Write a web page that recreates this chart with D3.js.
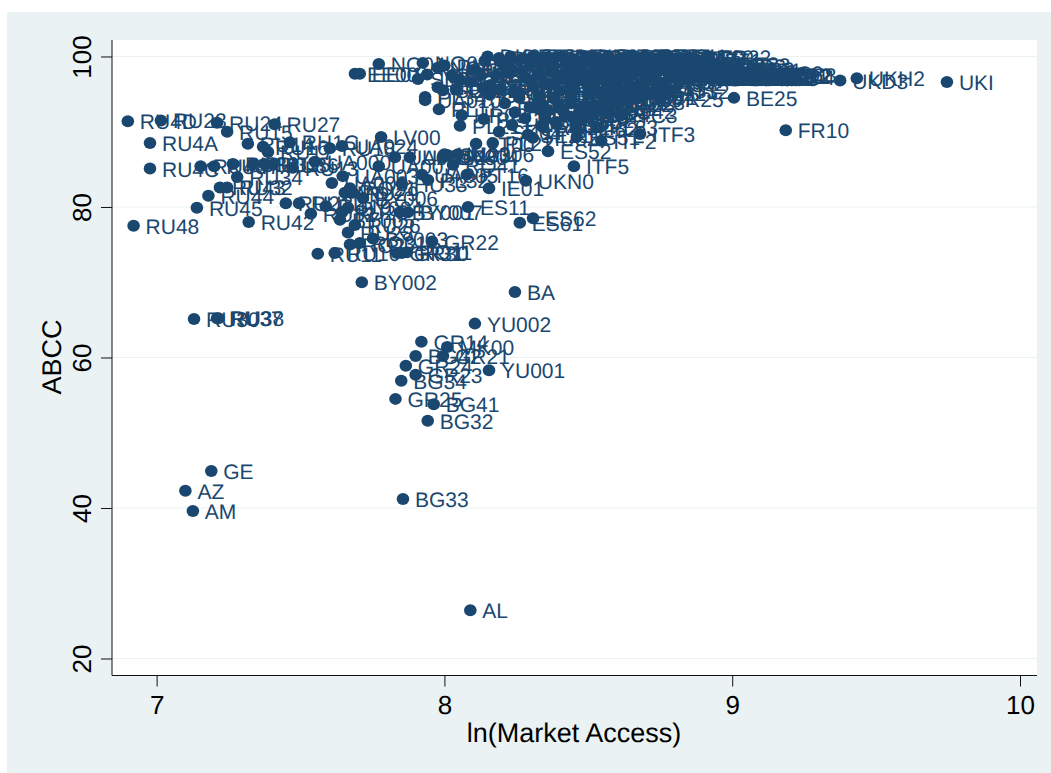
<!DOCTYPE html>
<html lang="en">
<head>
    <meta charset="UTF-8">
    <title>ABCC by ln(Market Access)</title>
    <script src="https://d3js.org/d3.v7.min.js"></script>
    <style>
        html, body { margin: 0; padding: 0; background: #fff; }
        svg { display: block; font-family: "Liberation Sans", Arial, sans-serif; text-rendering: geometricPrecision; }
        .tick text { fill: #000; }
    </style>
</head>
<body>
    <svg id="chart" width="1051" height="773"></svg>

    <script>
        // tick labels
        const xTicks = [7, 8, 9, 10];
        const yTicks = [20, 40, 60, 80, 100];

        // regions that can be read on their own (outskirts of the cloud)
        const outerLabels = [
            "UKI","UKH2","UKD3","FR10","BE25","ITF3","ITF2","ITF5","ES52","ES51",
            "ITC3","UKN0","IE01","ES11","ES62","ES61","BA","BY002","YU002","GR14",
            "MK00","BG42","GR21","GR24","GR23","YU001","BG34","GR25","BG41","BG32",
            "GE","AZ","AM","BG33","AL","RU30","RU37","RU38","RU48","RU45",
            "RU42","RU44","RU43","RU32","RU4D","RU23","RU24","RU15","RU27","RU4A",
            "RU4C","RU34"
        ];
        const outerX = [
            9.746,9.433,9.375,9.186,9.006,8.68,8.545,8.45,8.36,8.46,
            8.61,8.283,8.155,8.082,8.308,8.262,8.245,7.713,8.106,7.92,
            8.01,7.9,7.995,7.866,7.9,8.155,7.85,7.83,7.963,7.942,
            7.19,7.1,7.126,7.856,8.09,7.13,7.21,7.215,6.92,7.14,
            7.32,7.18,7.22,7.245,6.9,7.015,7.21,7.245,7.41,6.977,
            6.977,7.28
        ];
        const outerY = [
            96.6,97.1,96.8,90.2,94.5,89.7,88.8,85.4,87.4,89.3,
            92.2,83.5,82.5,80,78.5,77.9,68.7,70,64.5,62.1,
            61.4,60.2,60.2,58.9,57.7,58.3,56.9,54.5,53.8,51.6,
            44.9,42.3,39.6,41.2,26.4,65.1,65.2,65.2,77.5,79.9,
            78,81.5,82.6,82.6,91.4,91.5,91.2,90,91,88.5,
            85.1,84
        ];

        // regions in the loose band between the outskirts and the dense cloud
        const midLabels = [
            "RU46","RU47","RU33","RU31","RU35","RU36","RU13","UA000","RU14","RU16",
            "RU17","RH1C","RU18","UA024","UA007","UA003","UA008","UA009","UA002","UA004",
            "UA006","UA005","PL32","LV00","PT16","HU33","LT00","RU21","RU22","MD",
            "RU19","RU12","BY005","RU25","BY004","RU29","RO21","BY006","BY001","BY007",
            "RU26","RU28","BY003","RO22","RO31","GR30","GR22","GR31","RO11",
            "NO04","NO01","NO03","NO05","SE31","EE00","EE01","NO02","SE32","PL34",
            "UA010","PL11","HR03","PL21","PL12","SK04","PL22","HU32","RO32","SK03",
            "RU11","RU10","HU23","RO41"
        ];
        const midX = [
            7.153,7.2,7.265,7.335,7.376,7.404,7.473,7.55,7.317,7.37,
            7.387,7.463,7.602,7.644,7.772,7.647,7.609,7.828,7.88,7.995,
            8.047,7.922,7.943,7.78,8.078,7.852,8.11,7.449,7.495,7.654,
            7.588,7.536,7.637,7.644,7.665,7.682,7.672,7.717,7.845,7.873,
            7.689,7.665,7.752,7.672,7.706,7.852,7.957,7.835,7.87,
            7.772,7.925,7.977,7.94,7.908,7.689,7.706,7.977,7.995,7.933,
            7.933,7.981,8.06,8.054,8.137,8.19,8.168,8.307,8.343,8.01,
            7.56,7.619,8.0,8.03
        ];
        const midY = [
            85.4,85.4,85.7,85.7,85.7,85.6,85.2,86,88.4,88,
            87.3,88.6,87.8,88.1,85.4,84.1,83.2,86.6,86.6,86.6,
            87,84.3,83.6,89.3,84.3,83.1,88.4,80.5,80.5,81.9,
            80.1,79.1,78.3,79.3,79.9,81.9,82.5,81.2,79.3,79.3,
            77.6,76.6,75.8,75,75.2,73.9,75.4,73.9,74,
            99,99.15,98.5,97.6,97,97.7,97.7,95.9,95.5,94.6,
            94.2,93,92.2,90.8,91.7,90,88.5,89.2,90.6,86.9,
            73.8,73.9,87,85.6
        ];

        // dense cloud at the top of the chart; labels cannot be told apart here
        const coreLabels = [
            "DK00","DE11","DE12","DE13","DE14","DE21","DE22","DE23","DE24","DE25",
            "DE26","DE27","DE30","DE41","DE42","DE50","DE60","DE71","FR22","DE73",
            "DE80","DE91","DE92","DE93","DE94","DEA1","DEA2","DEA3","DEA4","DEA5",
            "DEB1","DEB2","DEB3","DEC0","DED1","DED2","DED3","DEE1","DEE2","DEE3",
            "DEF0","DEG0","NL11","NL12","NL13","NL21","NL22","NL23","NL31","NL32",
            "NL33","NL34","NL41","NL42","BE10","BE21","BE22","BE23","BE24","BE31",
            "BE32","BE33","BE34","BE35","UKC1","UKC2","UKD1","UKD2","UKD4","DEE8",
            "UKE1","UKE2","UKE3","UKE4","UKF1","UKF2","UKF3","UKG1","UKG2","UKG3",
            "FR21","DE72","FR23","FR24","DE74","FR26","FR30","FR41","FR42","FR43",
            "FR51","FR52","FR53","FR61","FR62","FR63","FR71","FR72","FR81","FR82",
            "FR83","AT11","AT12","AT13","AT21","AT22","AT31","AT32","AT33","AT34",
            "CH01","CH02","CH03","CH04","CH05","CH06","CH07","ITC1","FR25","ITC4",
            "ITD1","ITD2","ITD3","ITD4","ITD5","ITE1","ITE2","ITE3","ITE4","ITF1",
            "CZ01","CZ02","CZ03","CZ04","CZ05","CZ06","CZ07","CZ08","SK01","SK02",
            "HU10","HU21","HU22","HU31","SE11","SE12","SE21","SE22","SE23","SE33",
            "FI13","FI18","FI19","FI1A","DK01","LU00","UKH1","UKH3","UKJ1","UKJ2",
            "UKJ3","UKJ4","UKK1","UKK2","UKK3","UKK4","UKL1","UKL2","UKM2","UKM3",
            "PT11","IE02","ES21","ES22","ES23","ES24","ES41","ES42","ES43","ES53",
            "PL51","PL52","PL61","PL62","PL63","HR01","HR02","RO42","NO06","NO07",
            "DE75","DE76","DE77","DE78","DE79","DE81","DE82","DE83","DE84","DE85"
        ];
        const coreX = [
            8.15,8.31,8.36,8.41,8.45,8.49,8.53,8.57,8.61,8.64,
            8.67,8.70,8.73,8.76,8.79,8.82,8.85,8.88,8.915,8.72,
            8.30,8.34,8.38,8.43,8.47,8.51,8.55,8.59,8.63,8.68,
            8.75,8.80,8.84,8.88,8.92,8.95,8.98,9.01,8.93,8.97,
            8.22,8.27,8.33,8.37,8.42,8.46,8.50,8.54,8.58,8.62,
            8.66,8.70,8.74,8.78,8.82,8.86,8.90,8.94,8.98,9.02,
            8.98,9.0,9.02,9.04,9.06,9.08,9.10,9.11,9.12,9.13,
            8.95,8.98,9.01,9.03,9.05,9.07,9.0,9.02,9.04,9.06,
            8.30,8.35,8.40,8.44,8.48,8.52,8.56,8.60,8.64,8.68,
            8.72,8.76,8.80,8.84,8.88,8.92,8.96,9.00,8.50,8.58,
            8.40,8.45,8.54,8.62,8.66,8.70,8.74,8.78,8.82,8.86,
            8.33,8.38,8.44,8.50,8.56,8.60,8.64,8.68,8.75,8.58,
            8.34,8.40,8.44,8.48,8.52,8.55,8.60,8.64,8.52,8.47,
            8.026,8.04,8.054,8.089,8.10,8.123,8.134,8.158,8.18,8.19,
            8.21,8.228,8.235,8.245,8.26,8.28,8.29,8.297,8.33,8.34,
            8.35,8.387,8.45,8.505,8.00,8.14,8.20,8.24,8.92,8.96,
            8.99,9.03,9.07,9.11,8.80,8.83,8.86,8.89,8.92,8.95,
            8.23,8.30,8.36,8.42,8.48,8.31,8.37,8.43,8.49,8.55,
            8.26,8.33,8.39,8.46,8.53,8.28,8.41,8.57,8.12,8.16,
            8.19,8.23,8.27,8.33,8.39,8.44,8.50,8.55,8.60,8.66
        ];
        const coreY = [
            100,100,99.8,100,99.6,100,99.9,100,99.7,100,
            99.9,100,99.6,100,99.7,99.8,99.9,99.5,99.9,99.2,
            98.9,99.1,98.7,99,98.8,99.2,98.6,99.1,98.8,98.6,
            98.7,98.9,98.6,98.8,98.4,98.7,98.3,98.2,99,98.9,
            97.9,98.1,97.6,98,97.7,98.2,97.5,97.9,98.1,97.6,
            97.9,97.6,98,97.7,97.5,97.9,97.6,97.8,97.5,97.7,
            97.6,97.9,97.4,97.7,97.5,97.8,97.4,97.6,97.3,97.5,
            97.2,97.3,97.1,97.4,97.2,97.3,97.1,97.2,97.4,97.1,
            96.8,96.4,97,96.5,96.9,96.3,96.8,96.6,97,96.4,
            96.8,96.5,97.3,97.2,97.4,97.1,97.3,97.2,95.8,95.6,
            95.4,95.7,95.3,95.5,95.8,95.2,95.6,95.4,97.2,97.1,
            94.8,94.4,94.6,94.9,94.5,94.8,94.3,94.6,94.4,93.9,
            93.6,93.2,93.8,93.4,93.5,93.1,93.7,94,92.4,92.6,
            97.5,95.6,96.9,96.6,98.2,97.5,95.8,94.9,97.5,95.6,
            93.8,98.2,90.9,92.6,94.5,91.8,89.6,93.3,94.2,90.9,
            91.8,91.3,91.8,92.6,98.8,99.4,99.2,95.3,97.3,97.4,
            97.3,97.2,97.5,97.4,97.2,97.1,97.3,97.2,97.1,97.2,
            99.5,99.6,92.8,92.2,91.6,96,96.2,98,99.4,99.3,
            95.2,93,91,90.3,90.6,97.2,97.4,92.7,97.8,96.2,
            99.8,100,99.7,99.5,99.9,99.4,99.5,99.6,99.4,99.5
        ];

        const width = 1051, height = 773;
        const svg = d3.select('#chart');

        // graph region (the pale band) and white plot area
        svg.append('rect').attr('x', 7).attr('y', 12)
            .attr('width', width - 7).attr('height', height - 12)
            .attr('fill', '#eaf2f3');
        svg.append('rect').attr('x', 112).attr('y', 40)
            .attr('width', 925).attr('height', 635.5)
            .attr('fill', '#fff');

        // scales are extended past the first/last tick so the axes reach the corners
        const xScale = d3.scaleLinear().domain([6.845, 10.059]).range([112, 1037]);
        const yScale = d3.scaleLinear().domain([17.74, 102.19]).range([675.5, 40]);

        // gridlines
        svg.append('g').selectAll('line')
            .data(yTicks)
            .enter().append('line')
            .attr('x1', 112).attr('x2', 1037)
            .attr('y1', d => yScale(d)).attr('y2', d => yScale(d))
            .attr('stroke', '#eaf2f3').attr('stroke-width', 1);

        // points
        const sets = [
            [outerLabels, outerX, outerY],
            [midLabels, midX, midY],
            [coreLabels, coreX, coreY]
        ];
        const points = [];
        sets.forEach(([labels, xs, ys]) => {
            labels.forEach((label, i) => points.push({ label: label, x: xs[i], y: ys[i] }));
        });

        const plot = svg.append('g');
        plot.selectAll('ellipse')
            .data(points)
            .enter().append('ellipse')
            .attr('cx', d => xScale(d.x))
            .attr('cy', d => yScale(d.y))
            .attr('rx', 6.3)
            .attr('ry', 6)
            .attr('fill', '#1a476f');

        plot.selectAll('text')
            .data(points)
            .enter().append('text')
            .attr('x', d => xScale(d.x) + 12)
            .attr('y', d => yScale(d.y) + 8)
            .attr('font-size', '21px')
            .attr('fill', '#1a476f')
            .text(d => d.label);

        // axes
        const xAxis = d3.axisBottom(xScale).tickValues(xTicks).tickSize(11).tickPadding(9).tickFormat(d3.format('d'));
        const yAxis = d3.axisLeft(yScale).tickValues(yTicks).tickSize(11).tickPadding(9).tickFormat(d3.format('d'));

        const xAxisGroup = svg.append('g')
            .attr('transform', 'translate(0,675.5)')
            .call(xAxis);
        const yAxisGroup = svg.append('g')
            .attr('transform', 'translate(112,0)')
            .call(yAxis);

        xAxisGroup.selectAll('text').attr('font-size', '26px').attr('dy', '0.71em');
        xAxisGroup.selectAll('path, line').attr('stroke', '#111');
        yAxisGroup.selectAll('path, line').attr('stroke', '#111');
        xAxisGroup.select('.domain').attr('d', 'M112,0H1037');
        yAxisGroup.select('.domain').attr('d', 'M0,40V675.5');

        // the y tick labels are rotated like the axis title
        yAxisGroup.selectAll('.tick text')
            .attr('font-size', '26px')
            .attr('text-anchor', 'middle')
            .attr('x', 0)
            .attr('dy', 0)
            .attr('transform', 'translate(-21,0) rotate(-90)');

        svg.append('text')
            .attr('x', 574)
            .attr('y', 742)
            .attr('text-anchor', 'middle')
            .attr('font-size', '27px')
            .attr('fill', '#000')
            .text('ln(Market Access)');

        svg.append('text')
            .attr('transform', 'translate(61,357) rotate(-90)')
            .attr('text-anchor', 'middle')
            .attr('font-size', '27px')
            .attr('fill', '#000')
            .text('ABCC');
    </script>
</body>
</html>
